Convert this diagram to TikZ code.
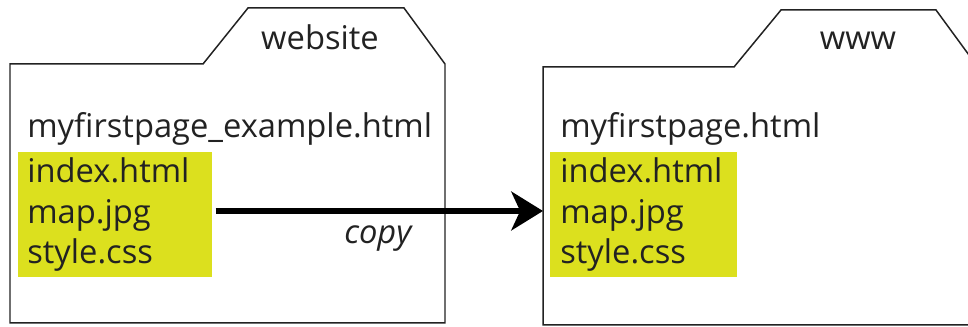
\documentclass[tikz,border=0pt]{standalone}
\usepackage{fontspec}
\setmainfont{Open Sans}
\usetikzlibrary{arrows.meta}

\definecolor{filelime}{RGB}{220,224,30}
\definecolor{ink}{RGB}{34,34,34}

\begin{document}
\begin{tikzpicture}[x=0.02cm, y=0.02cm,
  folder/.style={draw=ink, line width=0.85pt, line join=miter},
  filebox/.style={fill=filelime, anchor=north west, align=left, inner ysep=0pt,
    minimum height=2.5cm, font=\fontsize{18.6}{23}\selectfont, text=ink},
  nametext/.style={font=\fontsize{18.6}{23}\selectfont, text=ink, inner sep=0pt},
  copyarrow/.style={draw=black, line width=3.4pt,
    -{Stealth[length=18pt, width=22pt, inset=5pt]}}]

\clip (0,0) rectangle (968,327);

% Folder 1: website
\draw[folder] (10,263) -- (203,263) -- (248,319) -- (404,319) -- (445,263)
  -- (445,4) -- (10,4) -- cycle;
\node[nametext, anchor=base] (siteA) at (320,277) {website};
\node[nametext, anchor=base west] (pageA) at (27,189) {myfirstpage\_example.html};
\node[filebox, inner xsep=0.18cm, text width=3.52cm] (filesA) at (18,175)
  {index.html\\map.jpg\\style.css};

% Folder 2: www (runs past the right edge)
\draw[folder] (543,260) -- (734,260) -- (781,317) -- (936,317) -- (977,261)
  -- (977,2) -- (543,2) -- cycle;
\node[nametext, anchor=base] (siteB) at (858,277) {www};
\node[nametext, anchor=base west] (pageB) at (560,189) {myfirstpage.html};
\node[filebox, inner xsep=0.2cm, text width=3.34cm] (filesB) at (550,175)
  {index.html\\map.jpg\\style.css};

% copy arrow
\coordinate (wwwedge) at (543,116);
\draw[copyarrow, shorten <=0.06cm] (filesA.east |- wwwedge) -- (wwwedge)
  node[midway, below=0.24cm, nametext, font=\fontsize{18.6}{23}\selectfont\itshape] (copylabel) {copy};

\end{tikzpicture}
\end{document}
